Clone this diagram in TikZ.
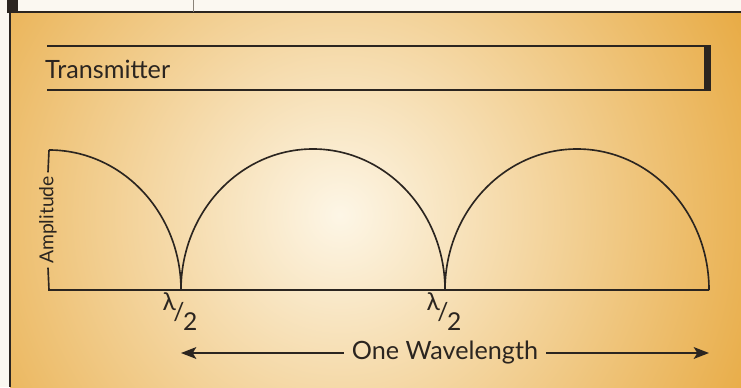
\documentclass[tikz,border=0pt]{standalone}
\usepackage{fontspec}
\setmainfont{Lato}
\usetikzlibrary{arrows.meta,positioning,calc}
\definecolor{wvink}{HTML}{2B2520}
\definecolor{wvcream}{HTML}{FDF6E6}
\definecolor{wvorange}{HTML}{E7A83E}
\definecolor{wvpaper}{HTML}{FBF8F1}
\definecolor{wvrule}{HTML}{8A8378}
\tikzset{
  wvline/.style ={draw=wvink, line width=1.4pt},
  wvwave/.style ={draw=wvink, line width=1.4pt},
  wvlbl/.style  ={font=\fontsize{21.5}{24}\selectfont, text=wvink, inner sep=0pt},
  wvaxis/.style ={font=\fontsize{16.5}{18}\selectfont, text=wvink, inner sep=3pt, rotate=90},
  wvlam/.style  ={font=\fontsize{21}{21}\selectfont, text=wvink, inner sep=0pt},
  wvarrow/.style={-{Stealth[length=13pt,width=10pt,inset=3pt]}, line width=1.8pt, draw=wvink},
}
\newcommand{\halflam}{\raisebox{0.42em}{λ}\kern-0.1em/\kern-0.06em\raisebox{-0.4em}{2}}

\begin{document}
\begin{tikzpicture}[x=0.03cm, y=-0.03cm]
  \useasboundingbox (0,0) rectangle (741,387);
  % paper and shaded panel
  \fill[wvpaper] (0,0) rectangle (741,387);
  \begin{scope}
    \clip (10,12) rectangle (741,387);
    \fill[wvorange] (10,12) rectangle (741,387);
    \shade[inner color=wvcream, outer color=wvorange] (340,215) circle (470);
  \end{scope}
  \fill[wvink] (7,0) rectangle (18,12);
  \draw[wvink, line width=1.2pt] (7,12) -- (741,12);
  \draw[wvink, line width=1.2pt] (10,12) -- (10,387);
  \draw[wvrule, line width=0.6pt] (193,0) -- (193,12);

  % transmitter strip
  \draw[wvline] (47,46) -- (706,46);
  \draw[wvline] (47,90) -- (706,90);
  \fill[wvink] (704,45) rectangle (711,91);
  \node[wvlbl, anchor=base west] (tx) at (45,78) {Transmitter};

  % amplitude axis and waves
  \node[wvaxis] (amp) at (48,220) {Amplitude};
  \draw[wvwave] (amp.east) -- (49,150);
  \draw[wvwave] (amp.west) -- (49,290) -- (709,290);
  \draw[wvwave] (49,150) arc[start angle=-90, end angle=0, x radius=132, y radius=140];
  \draw[wvwave] (181,290) arc[start angle=180, end angle=360, x radius=132, y radius=141];
  \draw[wvwave] (445,290) arc[start angle=180, end angle=360, x radius=132, y radius=141];

  \node[wvlam, anchor=north] (lamA) at (180,292) {\halflam};
  \node[wvlam, anchor=north] (lamB) at (444,292) {\halflam};

  % wavelength span
  \coordinate (wlL) at (181,353);
  \coordinate (wlR) at (709,353);
  \node[wvlbl, inner xsep=7pt] (wl) at (445,353) {One Wavelength};
  \draw[wvarrow] (wl.west) -- (wlL);
  \draw[wvarrow] (wl.east) -- (wlR);
\end{tikzpicture}
\end{document}
